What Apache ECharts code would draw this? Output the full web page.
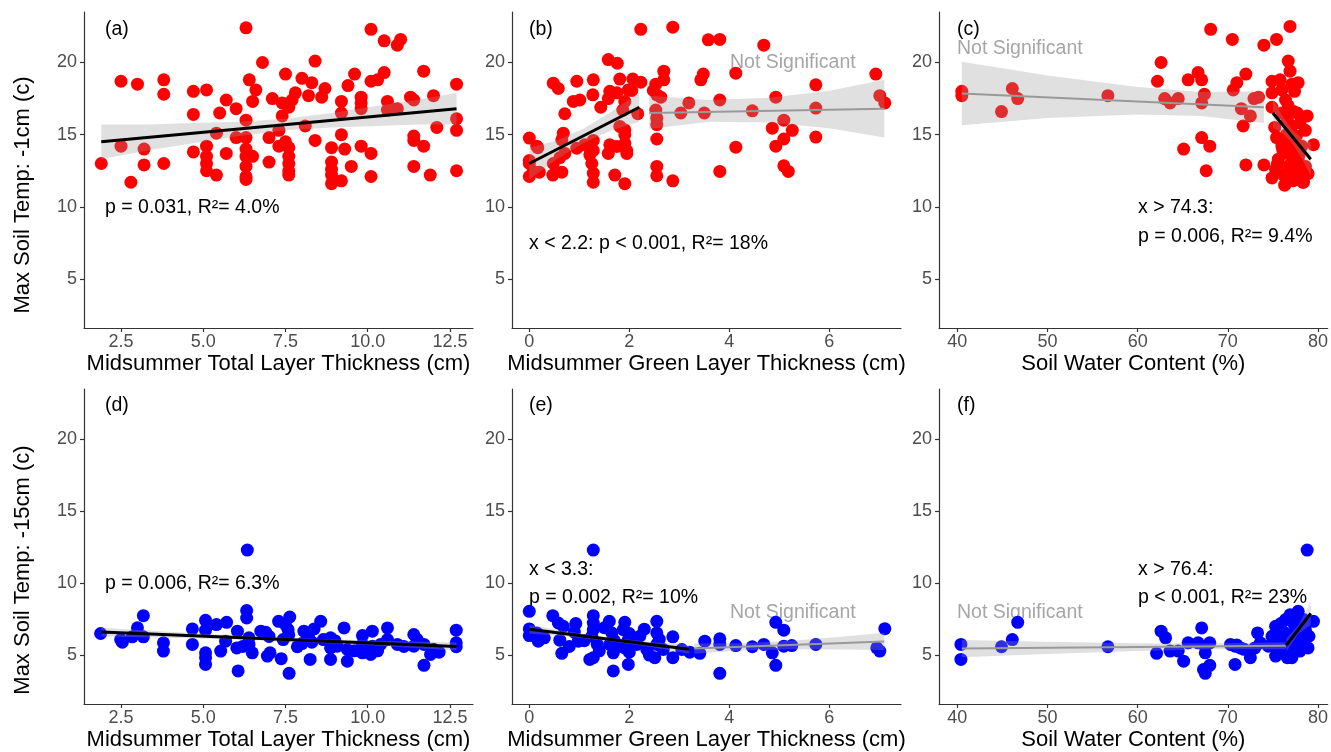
<!DOCTYPE html>
<html>
<head>
<meta charset="utf-8">
<script src="https://cdn.jsdelivr.net/npm/echarts@6.0.0/dist/echarts.min.js"></script>
<style>
  html, body { margin: 0; padding: 0; background: #fff; }
  #chart { width: 1331px; height: 752px; }
</style>
</head>
<body>
<div id="chart"></div>
<script>
const FONT = '"Liberation Sans", Arial, sans-serif'

// axis ticks
const yTicks = [5, 10, 15, 20]
const totalTicks = [2.5, 5.0, 7.5, 10.0, 12.5]
const greenTicks = [0, 2, 4, 6]
const waterTicks = [40, 50, 60, 70, 80]

// -1cm max temp vs total layer thickness (a)
const ptsA = [[6.3,22.4],[10.1,22.3],[10.5,21.5],[10.9,21.2],[11.0,21.6],[6.8,20.0],[8.4,20.1],
  [2.5,18.7],[3.0,18.5],[3.8,18.8],[3.8,17.8],[7.5,19.2],[9.6,19.2],[10.5,19.3],[10.3,18.8],[10.1,18.7],
  [11.7,19.4],[12.7,18.5],[6.4,18.8],[8.0,18.9],[8.3,18.6],[4.7,18.0],[5.1,18.1],[6.6,18.1],[8.7,18.2],
  [8.6,17.6],[9.4,18.4],[7.8,17.9],[7.7,17.4],[8.2,17.7],[5.7,17.4],[6.5,17.3],[7.1,17.5],[7.4,17.2],
  [7.6,16.9],[9.8,17.6],[9.8,17.2],[9.8,16.8],[9.2,17.3],[9.2,16.5],[10.6,17.3],[10.6,16.7],[11.3,17.6],
  [11.4,17.4],[12.0,17.7],[6.0,16.8],[4.7,16.4],[5.5,16.5],[6.3,16.0],[7.4,16.3],[10.9,16.8],[12.7,16.1],
  [12.7,15.3],[12.1,15.5],[8.1,15.6],[5.4,15.1],[7.3,15.3],[6.0,14.8],[6.3,14.8],[7.0,14.8],[8.4,14.6],
  [9.2,15.0],[11.4,14.9],[11.4,14.6],[2.5,14.2],[3.2,14.0],[3.2,12.9],[4.7,13.8],[5.1,14.2],[5.1,13.5],
  [5.1,13.0],[5.1,12.5],[5.7,13.7],[6.3,14.0],[6.3,13.5],[6.5,13.5],[6.3,12.8],[6.3,12.1],[6.3,11.9],
  [7.3,14.2],[7.5,14.5],[7.6,14.1],[7.6,13.5],[7.6,13.0],[7.6,12.5],[7.6,12.2],[7.0,13.1],[5.4,12.2],
  [1.9,13.0],[2.8,11.7],[3.8,13.0],[8.9,14.1],[8.9,13.1],[8.9,12.6],[8.9,12.2],[8.9,11.6],[9.3,14.0],
  [9.8,14.2],[10.1,13.7],[9.5,12.8],[9.2,11.8],[10.1,12.1],[11.4,12.8],[11.7,14.2],[11.9,12.2],[12.7,12.5]]

// -1cm max temp vs green layer thickness (b)
const ptsB = [[2.23,22.3],[2.87,22.45],[3.58,21.57],[3.81,21.6],[4.69,21.2],[1.58,20.2],[1.76,19.95],
  [2.69,19.4],[2.69,18.8],[3.48,19.2],[3.43,18.8],[4.13,19.26],[6.93,19.2],[0.48,18.57],[0.58,18.2],
  [0.95,18.7],[1.28,18.8],[1.81,18.85],[2.07,18.85],[2.23,18.64],[5.73,18.45],[1.98,18.1],[2.05,18.06],
  [2.53,18.5],[2.48,18.06],[2.55,17.76],[2.63,17.6],[1.61,18.0],[1.75,17.9],[1.58,17.5],[1.27,17.76],
  [0.88,17.3],[1.01,17.4],[1.43,16.9],[1.91,17.3],[1.87,16.7],[2.17,16.45],[0.71,16.45],[3.19,17.2],
  [3.81,17.4],[4.93,17.6],[5.73,16.84],[7.01,17.7],[7.11,17.2],[3.03,16.5],[3.5,16.5],[4.46,16.65],
  [5.09,16.0],[2.53,16.7],[2.55,16.14],[2.55,15.7],[1.81,15.57],[1.91,15.33],[4.86,15.45],[5.26,15.3],
  [5.73,14.83],[2.55,14.7],[5.09,14.7],[4.93,14.2],[4.13,14.13],[0,14.76],[0.15,14.2],[0.68,15.1],
  [0.65,14.64],[0.95,14.06],[1.11,14.3],[1.21,14.06],[1.21,13.6],[1.25,13.0],[1.61,14.3],[1.58,13.7],
  [1.75,14.18],[1.91,14.4],[1.95,13.7],[0,13.0],[0.08,12.45],[0,12.1],[0.48,13.0],[0.47,12.2],[0.65,12.4],
  [0.61,13.4],[0.71,13.7],[1.28,12.33],[1.28,11.7],[1.71,12.2],[1.91,11.6],[2.55,12.8],[2.55,12.15],
  [2.87,11.8],[3.81,12.45],[5.09,12.84],[5.18,12.45],[0,13.2],[0.2,12.4],[0.17,14.1],[1.28,14.6],
  [1.28,13.9],[1.91,15.0],[1.95,13.9]]

// -1cm max temp vs soil water content (c)
const ptsC = [[68.1,22.3],[70.5,21.6],[74.0,21.2],[75.4,21.6],[76.9,22.5],[62.6,20.0],[76.7,20.1],
  [66.7,19.3],[67.1,18.8],[72.0,19.2],[62.2,18.7],[65.6,18.8],[76.9,19.4],[71.0,18.6],[70.6,18.1],
  [40.5,18.0],[40.5,17.7],[46.1,18.2],[46.7,17.5],[44.9,16.6],[56.7,17.7],[63.0,17.5],[63.6,17.2],
  [64.5,17.5],[67.4,17.8],[67.1,17.2],[72.9,17.5],[73.4,17.6],[71.5,16.8],[72.5,16.3],[71.7,15.6],
  [74.9,18.7],[74.9,17.9],[74.9,16.9],[75.8,18.8],[76.0,18.1],[76.4,17.4],[77.1,18.5],[77.8,18.6],
  [77.4,18.0],[76.7,17.0],[77.7,16.5],[78.0,15.8],[78.6,15.3],[76.6,16.0],[77.1,15.6],[75.4,14.8],
  [76.0,14.2],[75.6,13.3],[76.6,13.7],[77.1,14.4],[77.8,13.3],[78.6,12.8],[79.5,14.3],[75.3,12.6],
  [76.2,12.2],[77.1,12.6],[78.0,12.1],[78.4,11.7],[76.4,11.6],[74.9,12.0],[77.3,13.3],[76.7,12.8],
  [77.5,11.9],[67.1,14.8],[68.0,14.2],[65.1,14.0],[72.0,12.9],[74.0,12.9],[67.6,12.5],[76.3,11.5],
  [78.3,11.7],[75.5,13.0],[77.0,13.8],[76.5,15.0],[77.6,14.9],[78.8,16.3],[76.0,16.5],[77.3,16.6],
  [77.8,12.5],[76.9,12.9],[75.2,15.5],[76.8,14.6],[78.2,14.2],[77.9,13.6],[76.1,13.9],[78.9,12.3],[77.2,11.8]]

// -15cm max temp vs total layer thickness (d)
const ptsD = [[6.34,12.3],[6.32,8.1],[6.32,7.58],[3.18,7.74],[1.88,6.5],[2.49,6.08],[2.54,5.9],[3.0,6.9],
  [2.84,6.27],[3.18,6.27],[3.79,5.85],[3.79,5.28],[4.67,6.82],[4.67,5.74],[5.07,7.42],[5.07,6.73],
  [5.07,5.16],[5.07,4.82],[5.07,4.35],[5.4,7.12],[5.71,7.28],[5.68,5.97],[5.53,5.28],[6.04,6.66],
  [6.02,5.5],[6.06,3.9],[6.39,6.2],[6.39,5.74],[6.49,5.16],[6.75,6.66],[6.9,6.59],[6.95,4.93],[7.03,5.16],
  [7.29,7.35],[7.5,7.12],[7.63,7.65],[7.58,6.77],[7.43,6.08],[7.37,4.75],[7.61,3.73],[7.86,5.58],
  [8.06,6.66],[8.21,6.2],[8.57,7.35],[8.37,6.82],[8.25,4.7],[8.65,6.08],[8.87,6.2],[8.87,5.5],[8.87,4.7],
  [9.28,6.89],[9.07,5.62],[9.38,5.39],[9.38,4.58],[9.84,6.36],[9.84,5.74],[9.84,5.16],[10.14,6.66],
  [10.14,5.62],[10.09,5.05],[10.39,5.74],[10.6,6.89],[10.6,6.08],[10.9,5.74],[11.4,6.43],[11.4,5.62],
  [11.71,5.74],[11.71,4.29],[11.91,5.05],[12.17,5.2],[12.69,6.73],[12.69,5.85],[12.69,5.58],[7.6,6.4],
  [8.3,5.9],[9.0,6.0],[9.6,5.3],[10.3,5.3],[11.1,5.6],[11.5,6.1],[12.0,5.4],[6.2,5.6],[7.0,6.3],[8.0,5.8]]

// -15cm max temp vs green layer thickness (e)
const ptsE = [[1.28,12.3],[0,8.04],[0,6.82],[0,6.36],[0.15,6.54],[0.18,5.97],[0.47,7.74],[0.58,7.23],
  [0.68,7.0],[0.61,6.04],[0.65,5.12],[0.93,7.19],[0.98,5.97],[1.28,7.74],[1.28,7.23],[1.28,6.77],
  [1.25,6.31],[1.36,5.74],[1.21,4.7],[1.28,4.82],[1.6,7.35],[1.65,6.54],[1.61,5.74],[1.68,5.16],[1.68,3.9],
  [1.91,7.28],[1.88,6.77],[1.98,6.08],[1.91,5.5],[1.81,5.62],[1.98,4.35],[2.21,6.31],[2.15,5.74],
  [2.55,7.35],[2.55,6.54],[2.55,5.74],[2.51,4.82],[2.87,6.27],[2.87,4.82],[2.35,5.39],[2.68,5.39],
  [3.05,5.39],[3.21,5.2],[3.41,5.12],[3.51,5.97],[3.81,6.13],[3.81,5.74],[3.81,3.73],[4.13,5.66],
  [4.46,5.58],[4.69,5.74],[4.86,5.16],[4.93,7.28],[5.09,6.73],[4.93,4.29],[5.09,5.62],[5.25,5.66],
  [5.73,5.74],[6.95,5.5],[7.01,5.28],[7.11,6.84],[0.3,6.2],[0.9,6.6],[1.1,6.0],[1.5,6.9],[1.7,6.0],
  [2.0,5.2],[2.3,6.8],[2.6,6.1],[1.4,5.3],[0.8,5.6],[2.0,6.5],[2.4,5.0]]

// -15cm max temp vs soil water content (f)
const ptsF = [[78.8,12.3],[40.4,5.74],[40.4,4.7],[44.9,5.58],[46.1,6.08],[46.7,7.28],[56.7,5.58],
  [62.6,6.66],[63.1,6.2],[62.1,5.12],[63.6,5.28],[64.5,5.28],[65.1,4.58],[65.6,5.85],[67.1,6.89],
  [66.7,5.85],[67.5,5.62],[68.0,5.85],[67.5,5.16],[67.3,4.0],[68.0,4.29],[67.5,3.73],[70.3,5.74],
  [70.8,5.62],[71.4,5.5],[70.8,4.35],[72.5,4.82],[73.0,5.5],[73.3,6.54],[73.6,5.85],[75.3,7.0],
  [75.6,6.31],[76.4,7.47],[76.9,7.8],[75.4,5.5],[76.0,5.16],[76.6,4.82],[75.3,4.93],[77.1,5.62],
  [77.8,8.04],[78.4,7.47],[78.6,6.77],[79.0,6.31],[78.2,6.08],[77.5,6.77],[79.5,7.35],[78.0,5.28],
  [77.1,4.82],[76.4,6.08],[74.9,6.31],[74.5,5.62],[71.8,5.4],[71.0,5.7],[76.2,6.6],[77.3,7.2],[77.0,6.2],
  [75.8,5.9],[78.5,5.9],[77.6,5.4],[76.8,5.1],[75.9,7.2],[77.9,7.6],[78.9,5.5]]

// fitted segments: [x, y]
const fitA = [[1.9, 14.5], [12.7, 16.8]]
const fitB1 = [[0, 13.0], [2.2, 16.9]]
const fitB2 = [[2.4, 16.5], [7.1, 16.8]]
const fitC1 = [[40.5, 17.85], [74.0, 16.9]]
const fitC2 = [[75.0, 16.5], [79.2, 13.3]]
const fitD = [[1.9, 6.6], [12.7, 5.6]]
const fitE1 = [[0, 6.8], [3.2, 5.4]]
const fitE2 = [[3.3, 5.45], [7.1, 5.95]]
const fitF1 = [[40.5, 5.45], [76.4, 5.65]]
const fitF2 = [[76.5, 5.7], [79.2, 7.9]]

// confidence bands: [x, lower, upper]
const bandA = [[1.9,13.3,15.7],[3.3,13.9,15.7],[4.7,14.4,15.8],[6.1,14.9,15.9],[7.5,15.3,16.1],
  [8.9,15.5,16.5],[10.3,15.6,17.0],[11.5,15.7,17.4],[12.7,15.7,17.9]]
const bandB1 = [[0,11.9,14.1],[0.55,13.3,14.6],[1.1,14.45,15.45],[1.65,15.3,16.6],[2.2,15.9,17.9]]
const bandB2 = [[2.4,15.4,17.7],[3.6,15.9,17.4],[4.8,15.85,17.55],[6.0,15.45,18.05],[7.1,14.8,18.8]]
const bandC1 = [[40.5,15.65,20.05],[50,16.15,19.1],[60,16.4,18.3],[67,16.3,17.95],[74,15.8,18.0]]
const bandC2 = [[75,15.5,17.5],[76,15.14,16.34],[77.1,14.45,15.35],[78.2,13.36,14.76],[79.2,12.15,14.45]]
const bandD = [[1.9,6.3,6.9],[4.6,6.17,6.53],[7.3,5.98,6.22],[10,5.68,6.02],[12.7,5.32,5.88]]
const bandE1 = [[0,6.5,7.1],[0.8,6.28,6.62],[1.6,5.97,6.23],[2.4,5.58,5.92],[3.2,5.1,5.7]]
const bandE2 = [[3.3,5.1,5.8],[4.3,5.33,5.83],[5.3,5.41,6.01],[6.3,5.39,6.29],[7.1,5.35,6.55]]
const bandF1 = [[40.5,4.85,6.05],[50,5.08,5.92],[60,5.29,5.83],[68,5.4,5.8],[76.4,5.4,5.9]]
const bandF2 = [[76.5,5.25,6.15],[77.85,6.5,7.1],[79.2,7.1,8.7]]

const RED = '#ff0000'
const BLUE = '#0000ff'
const AXIS = '#333333'

const grids = [
  { left: 84, top: 12, width: 389, height: 316 },
  { left: 512, top: 12, width: 389, height: 316 },
  { left: 939, top: 12, width: 391, height: 316 },
  { left: 84, top: 389, width: 389, height: 317 },
  { left: 512, top: 389, width: 389, height: 317 },
  { left: 939, top: 389, width: 391, height: 317 },
]

function xAxisOf(i, min, max, ticks, digits, name) {
  return {
    type: 'value', gridIndex: i, min, max,
    name, nameLocation: 'middle', nameGap: 25,
    nameTextStyle: { color: '#000', fontSize: 22, fontFamily: FONT },
    axisLine: { show: true, onZero: false, lineStyle: { color: AXIS, width: 1.2 } },
    axisTick: { show: true, length: 4, customValues: ticks, lineStyle: { color: AXIS, width: 1.2 } },
    axisLabel: {
      customValues: ticks, color: '#4d4d4d', fontSize: 18, fontFamily: FONT, margin: 5,
      formatter: v => Number(v).toFixed(digits),
    },
    splitLine: { show: false },
  }
}

function yAxisOf(i) {
  return {
    type: 'value', gridIndex: i, min: 1.6, max: 23.5,
    axisLine: { show: true, onZero: false, lineStyle: { color: AXIS, width: 1.2 } },
    axisTick: { show: true, length: 4, customValues: yTicks, lineStyle: { color: AXIS, width: 1.2 } },
    axisLabel: { customValues: yTicks, color: '#4d4d4d', fontSize: 18, fontFamily: FONT, margin: 7 },
    splitLine: { show: false },
  }
}

function points(i, data, color) {
  return {
    type: 'scatter', xAxisIndex: i, yAxisIndex: i, data,
    symbol: 'circle', symbolSize: 13, itemStyle: { color, opacity: 1 }, z: 2, silent: true,
  }
}

function fit(i, data, color, width) {
  return {
    type: 'line', xAxisIndex: i, yAxisIndex: i, data,
    symbol: 'none', showSymbol: false, lineStyle: { color, width }, z: 4, silent: true,
  }
}

function band(i, rows) {
  return {
    type: 'custom', xAxisIndex: i, yAxisIndex: i, z: 3, silent: true,
    data: [[rows[0][0], rows[0][1]]],
    renderItem(params, api) {
      const upper = rows.map(r => api.coord([r[0], r[2]]))
      const lower = rows.slice().reverse().map(r => api.coord([r[0], r[1]]))
      return {
        type: 'polygon',
        shape: { points: upper.concat(lower) },
        style: { fill: 'rgba(153,153,153,0.3)' },
      }
    },
  }
}

function label(x, y, text, color, size) {
  return {
    type: 'text', x, y, silent: true,
    style: { text, fill: color || '#000', fontSize: size || 19.5, fontFamily: FONT, align: 'left', verticalAlign: 'middle' },
  }
}

function yTitle(x, y, text) {
  return {
    type: 'text', x, y, rotation: Math.PI / 2, silent: true,
    style: { text, fill: '#000', fontSize: 22, fontFamily: FONT, align: 'center', verticalAlign: 'middle' },
  }
}

const NS = '#a6a6a6'

const chart = echarts.init(document.getElementById('chart'), null, { renderer: 'canvas' })
chart.setOption({
  animation: false,
  backgroundColor: '#ffffff',
  grid: grids,
  xAxis: [
    xAxisOf(0, 1.375, 13.2, totalTicks, 1, 'Midsummer Total Layer Thickness (cm)'),
    xAxisOf(1, -0.346, 7.434, greenTicks, 0, 'Midsummer Green Layer Thickness (cm)'),
    xAxisOf(2, 37.97, 81.08, waterTicks, 0, 'Soil Water Content (%)'),
    xAxisOf(3, 1.375, 13.2, totalTicks, 1, 'Midsummer Total Layer Thickness (cm)'),
    xAxisOf(4, -0.346, 7.434, greenTicks, 0, 'Midsummer Green Layer Thickness (cm)'),
    xAxisOf(5, 37.97, 81.08, waterTicks, 0, 'Soil Water Content (%)'),
  ],
  yAxis: [0, 1, 2, 3, 4, 5].map(yAxisOf),
  series: [
    points(0, ptsA, RED), band(0, bandA), fit(0, fitA, '#000', 3),
    points(1, ptsB, RED), band(1, bandB1), band(1, bandB2), fit(1, fitB1, '#000', 3), fit(1, fitB2, '#999999', 2),
    points(2, ptsC, RED), band(2, bandC1), band(2, bandC2), fit(2, fitC1, '#999999', 2), fit(2, fitC2, '#000', 3),
    points(3, ptsD, BLUE), band(3, bandD), fit(3, fitD, '#000', 3),
    points(4, ptsE, BLUE), band(4, bandE1), band(4, bandE2), fit(4, fitE1, '#000', 3), fit(4, fitE2, '#999999', 2),
    points(5, ptsF, BLUE), band(5, bandF1), band(5, bandF2), fit(5, fitF1, '#999999', 2), fit(5, fitF2, '#000', 3),
  ],
  graphic: [
    yTitle(23, 195, 'Max Soil Temp: -1cm (c)'),
    yTitle(23, 570, 'Max Soil Temp: -15cm (c)'),
    label(105, 30, '(a)'), label(529, 30, '(b)'), label(957, 30, '(c)'),
    label(105, 406, '(d)'), label(529, 406, '(e)'), label(957, 406, '(f)'),
    label(105, 208, 'p = 0.031, R²= 4.0%'),
    label(529, 244, 'x < 2.2: p < 0.001, R²= 18%'),
    label(730, 63, 'Not Significant', NS),
    label(957, 49, 'Not Significant', NS),
    label(1138, 208, 'x > 74.3:'),
    label(1138, 237, 'p = 0.006, R²= 9.4%'),
    label(105, 584, 'p = 0.006, R²= 6.3%'),
    label(529, 570, 'x < 3.3:'),
    label(529, 598, 'p = 0.002, R²= 10%'),
    label(730, 613, 'Not Significant', NS),
    label(1138, 570, 'x > 76.4:'),
    label(1138, 598, 'p < 0.001, R²= 23%'),
    label(957, 613, 'Not Significant', NS),
  ],
})
</script>
</body>
</html>
